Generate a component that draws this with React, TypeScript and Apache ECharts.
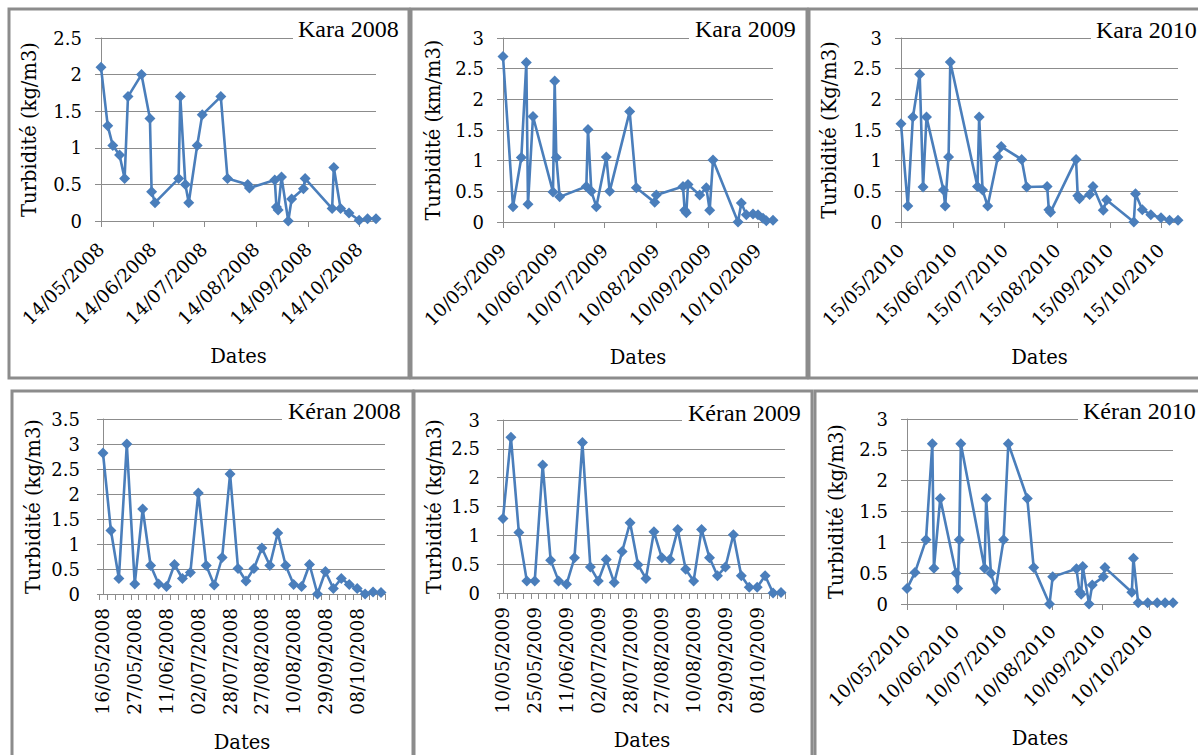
import React, { useEffect, useRef } from 'react';
import * as echarts from 'echarts';

// ---------- DATA ----------
const kara2008Dates = ['14/05/2008', '18/05/2008', '21/05/2008', '25/05/2008', '28/05/2008', '30/05/2008', '07/06/2008', '12/06/2008', '13/06/2008', '15/06/2008', '29/06/2008', '30/06/2008', '03/07/2008', '05/07/2008', '10/07/2008', '13/07/2008', '24/07/2008', '28/07/2008', '09/08/2008', '10/08/2008', '25/08/2008', '26/08/2008', '27/08/2008', '29/08/2008', '02/09/2008', '04/09/2008', '11/09/2008', '12/09/2008', '28/09/2008', '29/09/2008', '03/10/2008', '08/10/2008', '14/10/2008', '19/10/2008', '24/10/2008'];
const kara2008Values = [2.1, 1.3, 1.03, 0.9, 0.58, 1.7, 2.0, 1.4, 0.4, 0.25, 0.58, 1.7, 0.5, 0.25, 1.03, 1.45, 1.7, 0.58, 0.5, 0.45, 0.56, 0.19, 0.15, 0.6, 0.0, 0.3, 0.44, 0.58, 0.17, 0.73, 0.17, 0.11, 0.01, 0.03, 0.03];
const kara2008Ticks = ['14/05/2008', '14/06/2008', '14/07/2008', '14/08/2008', '14/09/2008', '14/10/2008'];

const kara2009Dates = ['10/05/2009', '16/05/2009', '21/05/2009', '24/05/2009', '25/05/2009', '28/05/2009', '09/06/2009', '10/06/2009', '11/06/2009', '13/06/2009', '29/06/2009', '30/06/2009', '02/07/2009', '05/07/2009', '11/07/2009', '13/07/2009', '25/07/2009', '29/07/2009', '09/08/2009', '10/08/2009', '26/08/2009', '27/08/2009', '28/08/2009', '29/08/2009', '05/09/2009', '09/09/2009', '11/09/2009', '13/09/2009', '28/09/2009', '30/09/2009', '03/10/2009', '07/10/2009', '10/10/2009', '13/10/2009', '15/10/2009', '19/10/2009'];
const kara2009Values = [2.7, 0.25, 1.05, 2.6, 0.29, 1.72, 0.49, 2.3, 1.05, 0.41, 0.58, 1.51, 0.5, 0.25, 1.06, 0.5, 1.8, 0.56, 0.32, 0.44, 0.58, 0.19, 0.15, 0.61, 0.44, 0.56, 0.19, 1.01, 0.0, 0.31, 0.12, 0.13, 0.12, 0.06, 0.02, 0.03];
const kara2009Ticks = ['10/05/2009', '10/06/2009', '10/07/2009', '10/08/2009', '10/09/2009', '10/10/2009'];

const kara2010Dates = ['15/05/2010', '19/05/2010', '22/05/2010', '26/05/2010', '28/05/2010', '30/05/2010', '09/06/2010', '10/06/2010', '12/06/2010', '13/06/2010', '29/06/2010', '30/06/2010', '02/07/2010', '05/07/2010', '11/07/2010', '13/07/2010', '25/07/2010', '28/07/2010', '09/08/2010', '10/08/2010', '11/08/2010', '26/08/2010', '27/08/2010', '28/08/2010', '03/09/2010', '05/09/2010', '11/09/2010', '13/09/2010', '29/09/2010', '30/09/2010', '04/10/2010', '09/10/2010', '15/10/2010', '20/10/2010', '25/10/2010'];
const kara2010Values = [1.6, 0.26, 1.71, 2.41, 0.57, 1.71, 0.52, 0.26, 1.06, 2.61, 0.58, 1.71, 0.52, 0.26, 1.06, 1.23, 1.02, 0.57, 0.58, 0.2, 0.16, 1.02, 0.43, 0.38, 0.45, 0.58, 0.19, 0.36, 0.0, 0.46, 0.2, 0.12, 0.07, 0.03, 0.03];
const kara2010Ticks = ['15/05/2010', '15/06/2010', '15/07/2010', '15/08/2010', '15/09/2010', '15/10/2010'];

const keran2008Labels = ['16/05/2008', '27/05/2008', '11/06/2008', '02/07/2008', '28/07/2008', '27/08/2008', '10/08/2008', '29/09/2008', '08/10/2008'];
const keran2008Values = [2.82, 1.27, 0.31, 3.0, 0.2, 1.7, 0.57, 0.2, 0.15, 0.59, 0.31, 0.43, 2.02, 0.57, 0.18, 0.73, 2.4, 0.51, 0.26, 0.51, 0.92, 0.57, 1.22, 0.57, 0.19, 0.15, 0.59, 0.0, 0.45, 0.11, 0.31, 0.19, 0.11, 0.0, 0.04, 0.03];

const keran2009Labels = ['10/05/2009', '25/05/2009', '11/06/2009', '02/07/2009', '28/07/2009', '27/08/2009', '10/08/2009', '29/09/2009', '08/10/2009'];
const keran2009Values = [1.29, 2.7, 1.05, 0.21, 0.21, 2.22, 0.57, 0.21, 0.15, 0.61, 2.61, 0.45, 0.21, 0.58, 0.18, 0.72, 1.22, 0.49, 0.25, 1.06, 0.61, 0.58, 1.1, 0.41, 0.21, 1.1, 0.61, 0.3, 0.45, 1.01, 0.3, 0.1, 0.1, 0.3, 0.0, 0.01];

const keran2010Dates = ['10/05/2010', '15/05/2010', '22/05/2010', '26/05/2010', '27/05/2010', '31/05/2010', '10/06/2010', '11/06/2010', '12/06/2010', '13/06/2010', '28/06/2010', '29/06/2010', '02/07/2010', '05/07/2010', '10/07/2010', '13/07/2010', '25/07/2010', '29/07/2010', '08/08/2010', '10/08/2010', '25/08/2010', '27/08/2010', '28/08/2010', '29/08/2010', '02/09/2010', '04/09/2010', '11/09/2010', '12/09/2010', '29/09/2010', '30/09/2010', '03/10/2010', '09/10/2010', '15/10/2010', '20/10/2010', '25/10/2010'];
const keran2010Values = [0.25, 0.51, 1.04, 2.6, 0.58, 1.71, 0.5, 0.25, 1.04, 2.6, 0.58, 1.71, 0.5, 0.24, 1.04, 2.6, 1.71, 0.59, 0.0, 0.44, 0.57, 0.2, 0.16, 0.61, 0.0, 0.31, 0.44, 0.59, 0.19, 0.74, 0.02, 0.02, 0.02, 0.02, 0.02];
const keran2010Ticks = ['10/05/2010', '10/06/2010', '10/07/2010', '10/08/2010', '10/09/2010', '10/10/2010'];

const titles = ['Kara 2008', 'Kara 2009', 'Kara 2010', 'Kéran 2008', 'Kéran 2009', 'Kéran 2010'];
const yNames = ['Turbidité (kg/m3)', 'Turbidité (km/m3)', 'Turbidité (Kg/m3)', 'Turbidité (kg/m3)', 'Turbidité (kg/m3)', 'Turbidité (kg/m3)'];
const yMaxes = [2.5, 3, 3, 3.5, 3, 3];
const xName = 'Dates';

// ---------- STYLE / LAYOUT ----------
const TITLE_FONT = 'Liberation Serif';
const AXIS_FONT = 'DejaVu Serif';
const BLUE = '#4a7ebb';
const GRAY = '#8c8c8c';

type Layout = {
  left: number; top: number; width: number; height: number;
  lineEnd: number; titleX: number; titleY: number;
  box: [number, number, number, number];
  yGap: number; xGap: number; rotate: number; margin: number;
};

const layouts: Layout[] = [
  { left: 101, top: 38, width: 275, height: 183, lineEnd: 293, titleX: 298, titleY: 29, box: [9, 9, 400, 369], yGap: 62, xGap: 125, rotate: 45, margin: 25 },
  { left: 503, top: 38, width: 270, height: 184, lineEnd: 689, titleX: 695, titleY: 29, box: [411, 9, 396, 369], yGap: 60, xGap: 125, rotate: 45, margin: 25 },
  { left: 901, top: 38, width: 277, height: 184, lineEnd: 1091, titleX: 1096, titleY: 30, box: [809, 9, 400, 369], yGap: 62, xGap: 125, rotate: 45, margin: 25 },
  { left: 99, top: 419, width: 286, height: 175, lineEnd: 282, titleX: 288, titleY: 411, box: [12, 391, 401, 380], yGap: 56, xGap: 138, rotate: 90, margin: 14 },
  { left: 499, top: 420, width: 286, height: 173, lineEnd: 682, titleX: 688, titleY: 413, box: [414, 391, 398, 380], yGap: 55, xGap: 137, rotate: 90, margin: 14 },
  { left: 907, top: 419, width: 266, height: 185, lineEnd: 1078, titleX: 1083, titleY: 411, box: [815, 391, 400, 380], yGap: 61, xGap: 124, rotate: 45, margin: 24 },
];

const dayNum = (s: string) => {
  const [d, m, y] = s.split('/').map(Number);
  return Date.UTC(y, m - 1, d) / 86400000;
};

type Panel =
  | { kind: 'date'; dates: string[]; values: number[]; ticks: string[] }
  | { kind: 'cat'; labels: string[]; values: number[] };

const panels: Panel[] = [
  { kind: 'date', dates: kara2008Dates, values: kara2008Values, ticks: kara2008Ticks },
  { kind: 'date', dates: kara2009Dates, values: kara2009Values, ticks: kara2009Ticks },
  { kind: 'date', dates: kara2010Dates, values: kara2010Values, ticks: kara2010Ticks },
  { kind: 'cat', labels: keran2008Labels, values: keran2008Values },
  { kind: 'cat', labels: keran2009Labels, values: keran2009Values },
  { kind: 'date', dates: keran2010Dates, values: keran2010Values, ticks: keran2010Ticks },
];

function buildOption() {
  const grid: any[] = [];
  const xAxis: any[] = [];
  const yAxis: any[] = [];
  const series: any[] = [];
  const graphic: any[] = [];

  panels.forEach((p, i) => {
    const L = layouts[i];
    grid.push({ left: L.left, top: L.top, width: L.width, height: L.height, containLabel: false, outerBoundsMode: 'none' });

    const nameStyle = { fontFamily: AXIS_FONT, fontSize: 19.5, color: '#000' };
    const labelBase = { fontFamily: AXIS_FONT, fontSize: 18.5, color: '#000', rotate: L.rotate, margin: L.margin };

    let data: number[][];
    if (p.kind === 'date') {
      const xs = p.dates.map(dayNum);
      const tickDays = p.ticks.map(dayNum);
      data = xs.map((x, k) => [x, p.values[k]]);
      xAxis.push({
        gridIndex: i, type: 'value', min: xs[0], max: xs[xs.length - 1],
        axisLine: { show: true, onZero: false, lineStyle: { color: GRAY, width: 1 } },
        axisTick: { show: true, length: 6, customValues: tickDays, lineStyle: { color: GRAY } },
        axisLabel: { ...labelBase, customValues: tickDays, formatter: (v: number) => p.ticks[tickDays.indexOf(v)] ?? '' },
        splitLine: { show: false },
        name: xName, nameLocation: 'middle', nameGap: L.xGap, nameTextStyle: nameStyle,
      });
    } else {
      const n = p.values.length;
      data = p.values.map((v, k) => [k, v]);
      const tickPos = Array.from({ length: n + 1 }, (_, k) => k - 0.5);
      const labelPos = p.labels.map((_, k) => k * 4);
      xAxis.push({
        gridIndex: i, type: 'value', min: -0.5, max: n - 0.5,
        axisLine: { show: true, onZero: false, lineStyle: { color: GRAY, width: 1 } },
        axisTick: { show: true, length: 6, customValues: tickPos, lineStyle: { color: GRAY } },
        axisLabel: { ...labelBase, customValues: labelPos, formatter: (v: number) => p.labels[Math.round(v / 4)] ?? '' },
        splitLine: { show: false },
        name: xName, nameLocation: 'middle', nameGap: L.xGap, nameTextStyle: nameStyle,
      });
    }

    yAxis.push({
      gridIndex: i, type: 'value', min: 0, max: yMaxes[i], interval: 0.5,
      axisLine: { show: true, lineStyle: { color: GRAY, width: 1 } },
      axisTick: { show: true, length: 6, lineStyle: { color: GRAY } },
      axisLabel: { fontFamily: AXIS_FONT, fontSize: 18, color: '#000', margin: 19 },
      splitLine: { show: true, lineStyle: { color: GRAY, width: 1 } },
      name: yNames[i], nameLocation: 'middle', nameRotate: 90, nameGap: L.yGap, nameTextStyle: nameStyle,
    });

    series.push({
      type: 'line', xAxisIndex: i, yAxisIndex: i, data,
      symbol: 'diamond', symbolSize: 11, showSymbol: true, clip: false,
      lineStyle: { color: BLUE, width: 2.6 },
      itemStyle: { color: BLUE },
      z: 3,
    });

    graphic.push({
      type: 'rect', z: 100, silent: true,
      shape: { x: L.box[0], y: L.box[1], width: L.box[2], height: L.box[3] },
      style: { fill: 'none', stroke: GRAY, lineWidth: 3 },
    });
    graphic.push({
      type: 'rect', z: 100, silent: true,
      shape: { x: L.lineEnd, y: L.top - 2, width: L.left + L.width - L.lineEnd + 2, height: 4 },
      style: { fill: '#ffffff' },
    });
    graphic.push({
      type: 'text', z: 101, silent: true,
      style: { text: titles[i], x: L.titleX, y: L.titleY, align: 'left', verticalAlign: 'middle', fontFamily: TITLE_FONT, fontSize: 24, fill: '#000' },
    });
  });

  return {
    animation: false,
    backgroundColor: '#ffffff',
    grid, xAxis, yAxis, series, graphic,
  };
}

export default function App() {
  const ref = useRef<HTMLDivElement>(null);
  useEffect(() => {
    if (!ref.current) return;
    const chart = echarts.init(ref.current, undefined, { renderer: 'svg' });
    chart.setOption(buildOption() as any);
    return () => chart.dispose();
  }, []);
  return <div ref={ref} style={{ position: 'absolute', left: 0, top: 0, width: 1198, height: 755, background: '#fff' }} />;
}
